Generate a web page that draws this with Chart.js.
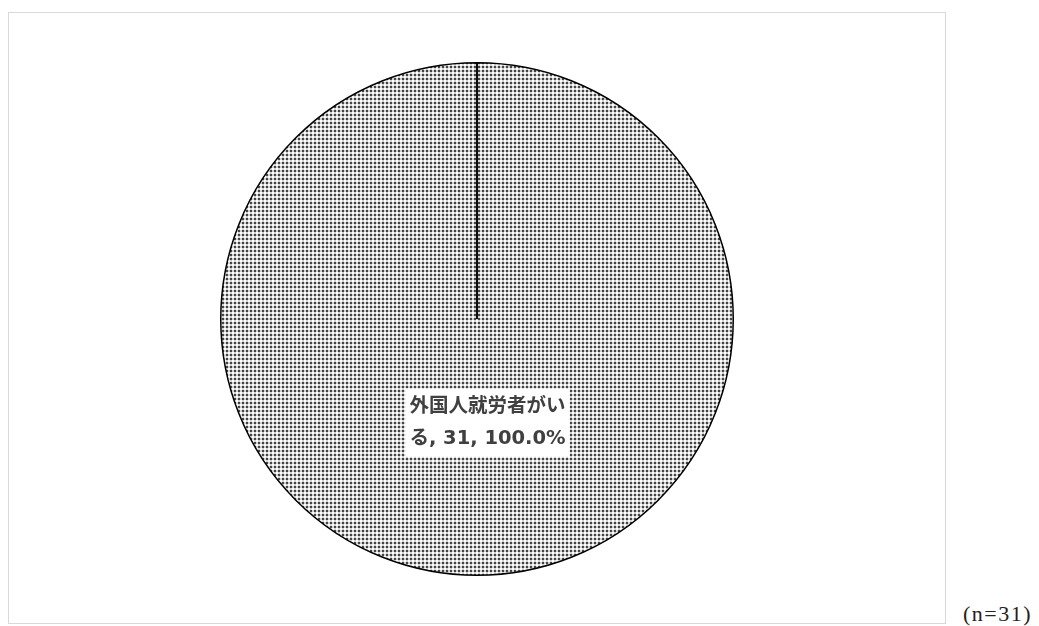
<!DOCTYPE html>
<html lang="ja">
<head>
<meta charset="utf-8">
<title>外国人就労者の有無</title>
<script src="https://cdn.jsdelivr.net/npm/chart.js@4.4.1/dist/chart.umd.min.js"></script>
<style>
  html, body { margin: 0; padding: 0; background: #fff; }
  body { width: 1039px; height: 626px; position: relative; overflow: hidden; }
  #frame {
    position: absolute; left: 8px; top: 12px;
    width: 936px; height: 610px;
    border: 1px solid #d9d9d9;
  }
  #note {
    position: absolute; left: 963px; top: 601px;
    font-family: "Liberation Serif", "DejaVu Serif", serif;
    font-size: 22px; color: #222; letter-spacing: 1.5px;
  }
</style>
</head>
<body>
<div id="frame"><canvas id="chart"></canvas></div>
<div id="note"></div>

<script>
/* global Chart */

const categories = ["外国人就労者がいる"];
const counts = [31];
const sampleSize = "(n=31)";

// small dotted fill, like a print-style pattern
function dotPattern() {
  const c = document.createElement("canvas");
  c.width = 4; c.height = 4;
  const g = c.getContext("2d");
  g.fillStyle = "#ffffff";
  g.fillRect(0, 0, 4, 4);
  g.fillStyle = "#d2d2d2";
  g.fillRect(1, 0, 2, 4);
  g.fillRect(0, 1, 4, 2);
  g.fillStyle = "#444444";
  g.fillRect(1, 1, 2, 2);
  return g.createPattern(c, "repeat");
}

function wrapText(ctx, text, maxWidth) {
  const lines = [];
  let cur = "";
  for (const ch of text) {
    if (ctx.measureText(cur + ch).width > maxWidth && cur) {
      lines.push(cur);
      cur = ch;
    } else {
      cur += ch;
    }
  }
  if (cur) lines.push(cur);
  return lines;
}

// radial edge of the slice + data label with white box
const pieExtras = {
  id: "pieExtras",
  afterDatasetsDraw(chart) {
    const ctx = chart.ctx;
    const meta = chart.getDatasetMeta(0);
    const total = counts.reduce((a, b) => a + b, 0);

    meta.data.forEach((arc, i) => {
      const { x, y, startAngle, endAngle, outerRadius } = arc.getProps(
        ["x", "y", "startAngle", "endAngle", "outerRadius"], true);

      ctx.save();
      ctx.strokeStyle = "#000";
      ctx.lineWidth = 1.5;
      ctx.beginPath();
      ctx.moveTo(x, y);
      ctx.lineTo(x + Math.cos(startAngle) * outerRadius, y + Math.sin(startAngle) * outerRadius);
      ctx.stroke();
      ctx.restore();

      const pct = (counts[i] / total * 100).toFixed(1);
      const text = `${categories[i]}, ${counts[i]}, ${pct}%`;
      ctx.save();
      ctx.font = "bold 19.5px 'DejaVu Sans', 'Noto Sans CJK JP', sans-serif";
      const lines = wrapText(ctx, text, 160);
      const lineH = 32;
      const w = Math.max(...lines.map(l => ctx.measureText(l).width));
      const mid = (startAngle + endAngle) / 2;
      const lx = x + Math.cos(mid) * outerRadius * 0.405 + 10.5;
      const ly = y + Math.sin(mid) * outerRadius * 0.405;
      const boxW = w + 8;
      const boxH = lines.length * lineH + 4;
      ctx.fillStyle = "#fff";
      ctx.fillRect(lx - boxW / 2, ly - boxH / 2, boxW, boxH);
      ctx.fillStyle = "#404040";
      ctx.textAlign = "left";
      ctx.textBaseline = "middle";
      lines.forEach((l, k) => {
        ctx.fillText(l, lx - w / 2, ly - (lines.length - 1) * lineH / 2 + k * lineH);
      });
      ctx.restore();
    });
  }
};

document.getElementById("note").textContent = sampleSize;

new Chart(document.getElementById("chart"), {
  type: "pie",
  data: {
    labels: categories,
    datasets: [{
      data: counts,
      backgroundColor: dotPattern(),
      borderColor: "#000",
      borderWidth: 1.5
    }]
  },
  options: {
    responsive: true,
    maintainAspectRatio: false,
    animation: false,
    layout: { padding: { top: 49, bottom: 47, left: 0, right: 0 } },
    plugins: {
      legend: { display: false },
      tooltip: { enabled: false }
    }
  },
  plugins: [pieExtras]
});
</script>
</body>
</html>
